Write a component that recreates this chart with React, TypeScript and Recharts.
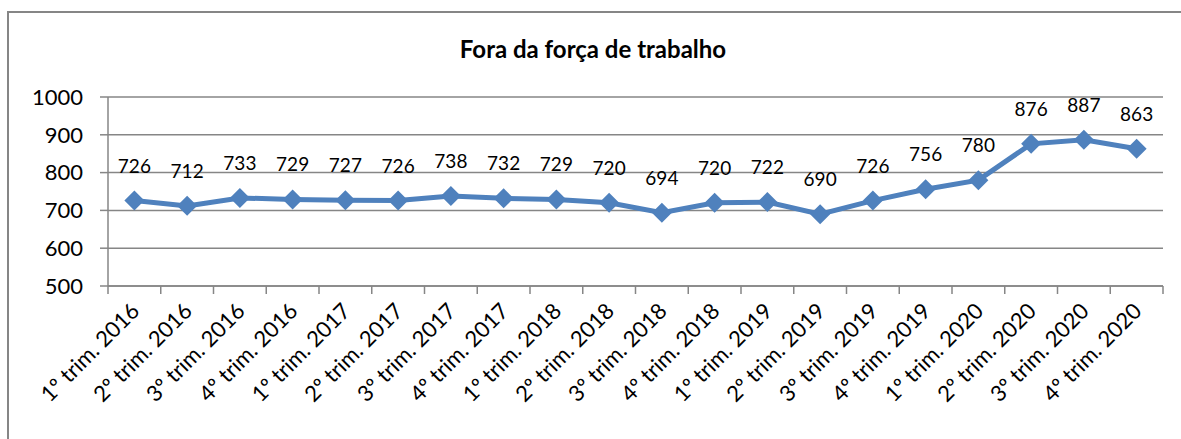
import React from 'react';
import { LineChart, Line, XAxis, YAxis, CartesianGrid, LabelList } from 'recharts';

const quarters = [
  '1º trim. 2016', '2º trim. 2016', '3º trim. 2016', '4º trim. 2016',
  '1º trim. 2017', '2º trim. 2017', '3º trim. 2017', '4º trim. 2017',
  '1º trim. 2018', '2º trim. 2018', '3º trim. 2018', '4º trim. 2018',
  '1º trim. 2019', '2º trim. 2019', '3º trim. 2019', '4º trim. 2019',
  '1º trim. 2020', '2º trim. 2020', '3º trim. 2020', '4º trim. 2020',
];
const foraDaForca = [726, 712, 733, 729, 727, 726, 738, 732, 729, 720, 694, 720, 722, 690, 726, 756, 780, 876, 887, 863];
const yTicks = [500, 600, 700, 800, 900, 1000];

// points sit in the middle of each quarter band; ticks mark the band edges
const data = quarters.map((q, i) => ({ x: i + 0.5, label: q, value: foraDaForca[i] }));
const boundaryTicks = quarters.map((_, i) => i).concat(quarters.length);

const FONT = 'Lato, "Open Sans", sans-serif';
const GRAY = '#868686';
const BLUE = '#4F81BD';

const Diamond = (props: any) => {
  const { cx, cy } = props;
  if (cx == null || cy == null) return null;
  const r = 10;
  return <path d={`M${cx},${cy - r}L${cx + r},${cy}L${cx},${cy + r}L${cx - r},${cy}Z`} fill={BLUE} />;
};

const QuarterTick = (props: any) => {
  const { x, y, width, payload } = props;
  const i = Math.round(payload.value);
  if (i >= quarters.length) return <g />;
  const band = Number(width) / quarters.length;
  const tx = x + band / 2 - 6;
  const ty = y + 4;
  return (
    <text
      x={tx}
      y={ty}
      transform={`rotate(-45, ${tx}, ${ty})`}
      textAnchor="end"
      fontFamily={FONT}
      fontSize={22}
      fill="#000"
      stroke="none"
      dominantBaseline="hanging"
    >
      {quarters[i]}
    </text>
  );
};

const App = () => (
  <div style={{ position: 'absolute', left: 0, top: 0, width: 1181, height: 439, overflow: 'hidden', background: '#fff' }}>
    <div
      style={{
        position: 'absolute', left: 7, top: 11, width: 1300, height: 600,
        border: `2px solid ${GRAY}`, boxSizing: 'border-box',
      }}
    />
    <div
      style={{
        position: 'absolute', left: 0, width: 1186, top: 34, textAlign: 'center',
        fontFamily: FONT, fontWeight: 700, fontSize: 24, color: '#000',
      }}
    >
      Fora da força de trabalho
    </div>
    <div style={{ position: 'absolute', left: 0, top: 0 }}>
      <LineChart width={1181} height={439} data={data} margin={{ top: 97, right: 18, bottom: 0, left: 0 }}>
        <CartesianGrid vertical={false} stroke={GRAY} strokeWidth={1.5} />
        <XAxis
          type="number"
          dataKey="x"
          domain={[0, quarters.length]}
          ticks={boundaryTicks}
          tick={<QuarterTick />}
          tickSize={8}
          tickMargin={2}
          tickLine={{ stroke: GRAY, strokeWidth: 1.5 }}
          axisLine={{ stroke: GRAY, strokeWidth: 1.5 }}
          height={153}
          interval={0}
        />
        <YAxis
          domain={[500, 1000]}
          ticks={yTicks}
          tickSize={8}
          tickMargin={17}
          width={108}
          tick={{ fontFamily: FONT, fontSize: 22, fill: '#000' }}
          tickLine={{ stroke: GRAY, strokeWidth: 1.5 }}
          axisLine={{ stroke: GRAY, strokeWidth: 1.5 }}
          allowDataOverflow
        />
        <Line
          dataKey="value"
          stroke={BLUE}
          strokeWidth={5}
          dot={<Diamond />}
          activeDot={false}
          isAnimationActive={false}
        >
          <LabelList
            dataKey="value"
            position="top"
            offset={28}
            fontFamily={FONT}
            fontSize={19}
            fill="#000"
          />
        </Line>
      </LineChart>
    </div>
  </div>
);

export default App;
